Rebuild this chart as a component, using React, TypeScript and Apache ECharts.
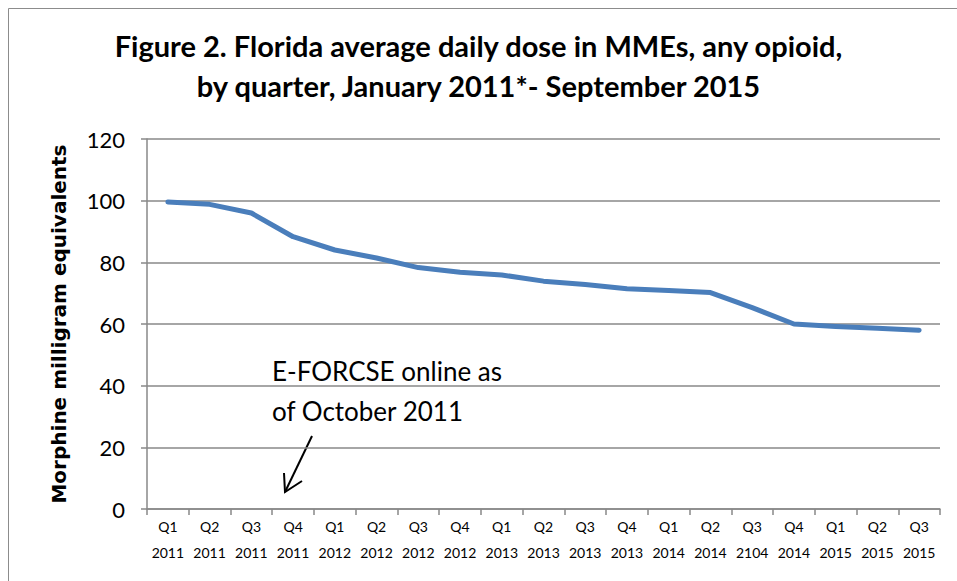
import React, { useEffect, useRef } from "react";
import * as echarts from "echarts";

const quarters = ["Q1", "Q2", "Q3", "Q4", "Q1", "Q2", "Q3", "Q4", "Q1", "Q2", "Q3", "Q4", "Q1", "Q2", "Q3", "Q4", "Q1", "Q2", "Q3"];
const years = ["2011", "2011", "2011", "2011", "2012", "2012", "2012", "2012", "2013", "2013", "2013", "2013", "2014", "2014", "2104", "2014", "2015", "2015", "2015"];
const avgDailyDose = [99.6, 98.8, 96.0, 88.3, 84.0, 81.4, 78.3, 76.8, 75.9, 73.9, 72.8, 71.4, 70.9, 70.2, 65.3, 60.0, 59.2, 58.6, 58.0];
const yTicks = { min: 0, max: 120, interval: 20 };

const titleLines = [
  "Figure 2. Florida average daily dose in MMEs, any opioid,",
  "by quarter, January 2011*- September 2015",
];
const yAxisTitle = "Morphine milligram equivalents";
const annotationLines = ["E-FORCSE online as", "of October 2011"];

export default function App() {
  const ref = useRef<HTMLDivElement>(null);
  useEffect(() => {
    if (!ref.current) return;
    const chart = echarts.init(ref.current, null, { renderer: "svg" });
    const categories = quarters.map((q, i) => `${q}\n${years[i]}`);
    const font = "Lato, 'Open Sans', sans-serif";
    chart.setOption({
      animation: false,
      backgroundColor: "#ffffff",
      title: {
        text: titleLines.join("\n"),
        left: "center",
        top: 20,
        textStyle: {
          fontFamily: font,
          fontWeight: "bold",
          fontSize: 29,
          lineHeight: 40,
          color: "#000000",
        },
      },
      grid: { left: 147, right: 17, top: 139, bottom: 72 },
      xAxis: {
        type: "category",
        data: categories,
        boundaryGap: true,
        axisLine: { show: true, lineStyle: { color: "#898989", width: 1.5 } },
        axisTick: { show: true, length: 6, lineStyle: { color: "#898989", width: 1.5 } },
        axisLabel: {
          interval: 0,
          fontFamily: font,
          fontSize: 14,
          lineHeight: 26,
          color: "#000000",
          margin: 4,
        },
      },
      yAxis: {
        type: "value",
        min: yTicks.min,
        max: yTicks.max,
        interval: yTicks.interval,
        name: yAxisTitle,
        nameLocation: "middle",
        nameGap: 78,
        nameTextStyle: {
          fontFamily: "'DejaVu Sans', sans-serif",
          fontWeight: "bold",
          fontSize: 20,
          color: "#000000",
        },
        axisLine: { show: true, lineStyle: { color: "#898989", width: 1.5 } },
        axisTick: { show: true, length: 6, lineStyle: { color: "#898989", width: 1.5 } },
        splitLine: { show: true, lineStyle: { color: "#898989", width: 1.5 } },
        axisLabel: {
          fontFamily: font,
          fontSize: 22,
          color: "#000000",
          margin: 22,
        },
      },
      series: [
        {
          type: "line",
          data: avgDailyDose,
          symbol: "none",
          smooth: false,
          lineStyle: { color: "#4a7ebb", width: 5, cap: "round", join: "round" },
        },
      ],
      graphic: [
        {
          type: "rect",
          shape: { x: 8.5, y: 8.5, width: 1000, height: 1000 },
          style: { fill: "none", stroke: "#8c8c8c", lineWidth: 1 },
          silent: true,
        },
        {
          type: "text",
          x: 272,
          y: 351,
          style: {
            text: annotationLines.join("\n"),
            fontFamily: font,
            fontSize: 26,
            lineHeight: 40,
            fill: "#000000",
          },
        },
        {
          type: "line",
          shape: { x1: 312, y1: 436, x2: 285, y2: 492 },
          style: { stroke: "#000000", lineWidth: 2 },
        },
        {
          type: "polyline",
          shape: { points: [[284, 473], [285, 492], [302, 481]] },
          style: { stroke: "#000000", lineWidth: 2, fill: "none" },
        },
      ],
    });
    return () => chart.dispose();
  }, []);
  return (
    <div
      ref={ref}
      style={{ position: "fixed", left: 0, top: 0, width: 957, height: 581 }}
    />
  );
}
